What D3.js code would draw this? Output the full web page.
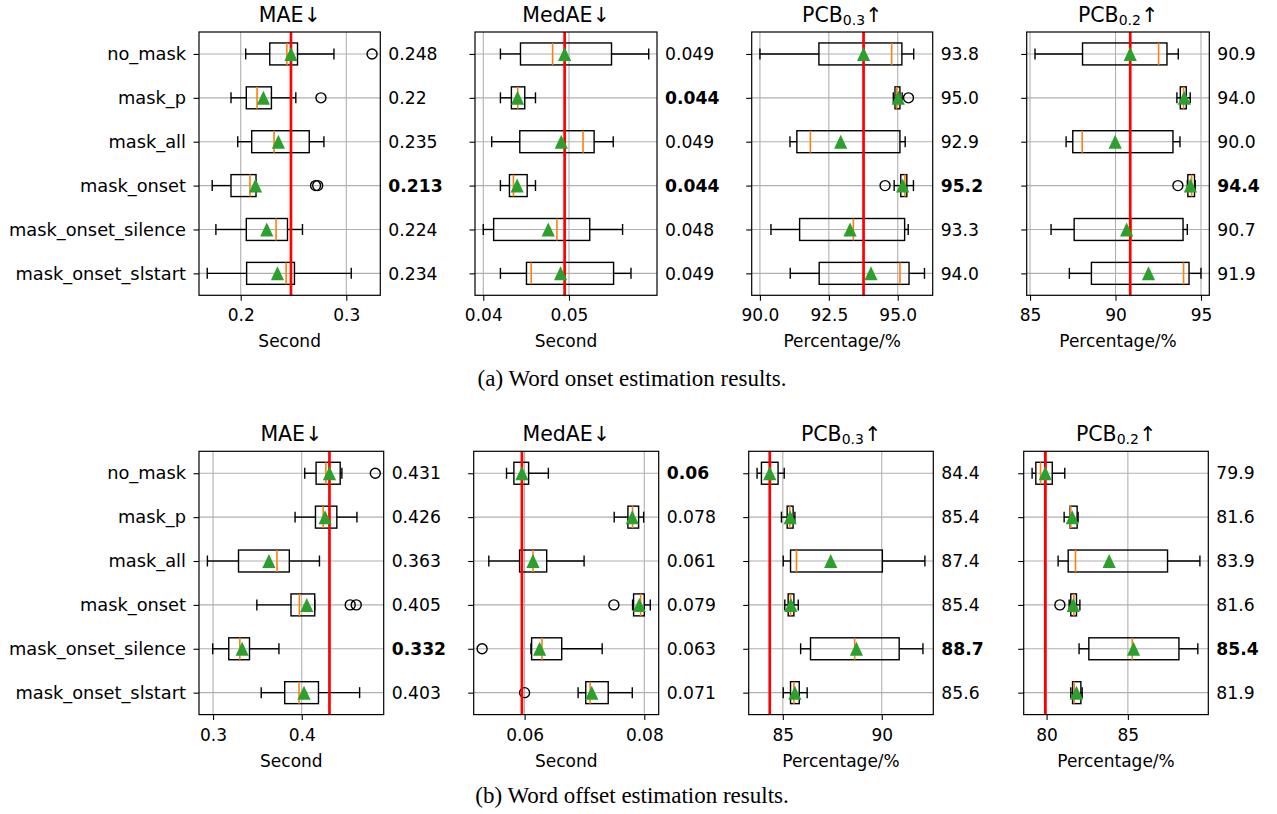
<!DOCTYPE html>
<html>
<head>
<meta charset="utf-8">
<script src="https://cdn.jsdelivr.net/npm/d3@7"></script>
<style>
body { margin: 0; background: #fff; }
text { font-family: "DejaVu Sans", sans-serif; }
</style>
</head>
<body>
<script>
let W = 1277
let H = 814

let methods = ["no_mask", "mask_p", "mask_all", "mask_onset", "mask_onset_silence", "mask_onset_slstart"]

// each row: [whisker low, q1, median, q3, whisker high, mean]
let onsetMAE = [
    [0.2047, 0.2275, 0.2437, 0.2538, 0.2883, 0.2476],
    [0.1908, 0.2053, 0.2155, 0.2291, 0.2522, 0.2215],
    [0.1972, 0.2104, 0.2316, 0.2649, 0.2788, 0.2357],
    [0.1730, 0.1908, 0.2088, 0.2145, 0.2145, 0.2140],
    [0.1765, 0.2053, 0.2335, 0.2443, 0.2585, 0.2247],
    [0.1683, 0.2056, 0.2430, 0.2509, 0.3047, 0.2348]
]
let onsetMAEOut = [[0.3244], [0.276], [], [0.2709, 0.2729], [], []]
let onsetMAEScore = ["0.248", "0.22", "0.235", "0.213", "0.224", "0.234"]

let onsetMedAE = [
    [0.0420, 0.04434, 0.04809, 0.05496, 0.0593, 0.04949],
    [0.0420, 0.04328, 0.04402, 0.04484, 0.04609, 0.0440],
    [0.04098, 0.04426, 0.05164, 0.05293, 0.05516, 0.0491],
    [0.0420, 0.04305, 0.04352, 0.04512, 0.04609, 0.04395],
    [0.0400, 0.04121, 0.04859, 0.05242, 0.05625, 0.04758],
    [0.0420, 0.04504, 0.04559, 0.0552, 0.05723, 0.04902]
]
let onsetMedAEOut = [[], [], [], [], [], []]
let onsetMedAEScore = ["0.049", "0.044", "0.049", "0.044", "0.048", "0.049"]

let onsetPCB3 = [
    [90.00, 92.14, 94.78, 95.15, 95.58, 93.76],
    [94.84, 94.90, 94.96, 95.08, 95.16, 95.02],
    [91.09, 91.34, 91.83, 95.08, 95.27, 92.93],
    [94.87, 95.11, 95.26, 95.33, 95.57, 95.18],
    [90.40, 91.44, 93.39, 95.25, 95.38, 93.27],
    [91.10, 92.15, 95.08, 95.41, 95.97, 94.03]
]
let onsetPCB3Out = [[], [95.39], [], [94.54], [], []]
let onsetPCB3Score = ["93.8", "95.0", "92.9", "95.2", "93.3", "94.0"]

let onsetPCB2 = [
    [85.29, 88.07, 92.52, 93.01, 93.67, 90.86],
    [93.59, 93.79, 93.98, 94.14, 94.37, 94.02],
    [87.11, 87.50, 88.05, 93.36, 93.77, 89.98],
    [94.20, 94.23, 94.45, 94.62, 94.66, 94.38],
    [86.23, 87.58, 90.92, 93.95, 94.20, 90.65],
    [87.30, 88.59, 93.98, 94.30, 95.00, 91.93]
]
let onsetPCB2Out = [[], [], [], [93.65], [], []]
let onsetPCB2Score = ["90.9", "94.0", "90.0", "94.4", "90.7", "91.9"]

let offsetMAE = [
    [0.4034, 0.4162, 0.4272, 0.4434, 0.4453, 0.4313],
    [0.3925, 0.4155, 0.4242, 0.4396, 0.4623, 0.4264],
    [0.2936, 0.3287, 0.3721, 0.3860, 0.4200, 0.3630],
    [0.3494, 0.3879, 0.3974, 0.4147, 0.4147, 0.4057],
    [0.2996, 0.3177, 0.3302, 0.3411, 0.3743, 0.3328],
    [0.3543, 0.3808, 0.3970, 0.4189, 0.4653, 0.4026]
]
let offsetMAEOut = [[0.483], [], [], [0.4547, 0.4615], [], []]
let offsetMAEScore = ["0.431", "0.426", "0.363", "0.405", "0.332", "0.403"]

let offsetMedAE = [
    [0.05698, 0.05821, 0.05955, 0.06067, 0.06397, 0.05955],
    [0.07497, 0.07726, 0.07804, 0.07905, 0.07989, 0.07799],
    [0.05402, 0.05916, 0.0614, 0.06369, 0.06994, 0.0614],
    [0.07804, 0.07821, 0.07939, 0.0800, 0.0810, 0.07916],
    [0.06106, 0.06117, 0.0629, 0.0662, 0.07296, 0.06251],
    [0.06894, 0.07022, 0.07095, 0.07397, 0.07799, 0.07123]
]
let offsetMedAEOut = [[], [], [], [0.07492], [0.0529], [0.0600]]
let offsetMedAEScore = ["0.06", "0.078", "0.061", "0.079", "0.063", "0.071"]

let offsetPCB3 = [
    [83.70, 83.92, 84.38, 84.76, 85.07, 84.34],
    [84.93, 85.22, 85.35, 85.52, 85.61, 85.37],
    [85.02, 85.39, 85.69, 90.03, 92.18, 87.42],
    [85.10, 85.27, 85.39, 85.56, 85.78, 85.41],
    [85.90, 86.40, 88.63, 90.88, 92.08, 88.72],
    [85.02, 85.39, 85.56, 85.83, 86.23, 85.61]
]
let offsetPCB3Out = [[], [], [], [], [], []]
let offsetPCB3Score = ["84.4", "85.4", "87.4", "85.4", "88.7", "85.6"]

let offsetPCB2 = [
    [79.11, 79.34, 79.63, 80.35, 81.12, 79.92],
    [81.08, 81.45, 81.49, 81.88, 81.94, 81.58],
    [80.71, 81.33, 81.78, 87.44, 89.43, 83.85],
    [81.39, 81.49, 81.68, 81.84, 82.05, 81.64],
    [82.00, 82.60, 85.27, 88.14, 89.30, 85.35],
    [81.49, 81.60, 81.70, 82.11, 82.19, 81.84]
]
let offsetPCB2Out = [[], [], [], [80.82], [], []]
let offsetPCB2Score = ["79.9", "81.6", "83.9", "81.6", "85.4", "81.9"]

let captions = ["(a) Word onset estimation results.", "(b) Word offset estimation results."]

let panelH = 263.3

let panels = [
    { title: "MAE", sub: "", arrow: "↓", label: "Second", stats: onsetMAE, out: onsetMAEOut, score: onsetMAEScore, best: [3], ticks: [0.2, 0.3], fmt: ".1f", x: 199, y: 32, w: 181.3 },
    { title: "MedAE", sub: "", arrow: "↓", label: "Second", stats: onsetMedAE, out: onsetMedAEOut, score: onsetMedAEScore, best: [1, 3], ticks: [0.04, 0.05], fmt: ".2f", x: 475, y: 32, w: 182 },
    { title: "PCB", sub: "0.3", arrow: "↑", label: "Percentage/%", stats: onsetPCB3, out: onsetPCB3Out, score: onsetPCB3Score, best: [3], ticks: [90, 92.5, 95], fmt: ".1f", x: 751.7, y: 32, w: 181 },
    { title: "PCB", sub: "0.2", arrow: "↑", label: "Percentage/%", stats: onsetPCB2, out: onsetPCB2Out, score: onsetPCB2Score, best: [3], ticks: [85, 90, 95], fmt: "d", x: 1026.7, y: 32, w: 182.6 },
    { title: "MAE", sub: "", arrow: "↓", label: "Second", stats: offsetMAE, out: offsetMAEOut, score: offsetMAEScore, best: [4], ticks: [0.3, 0.4], fmt: ".1f", x: 199, y: 451.3, w: 184.7 },
    { title: "MedAE", sub: "", arrow: "↓", label: "Second", stats: offsetMedAE, out: offsetMedAEOut, score: offsetMedAEScore, best: [0], ticks: [0.06, 0.08], fmt: ".2f", x: 473.7, y: 451.3, w: 185 },
    { title: "PCB", sub: "0.3", arrow: "↑", label: "Percentage/%", stats: offsetPCB3, out: offsetPCB3Out, score: offsetPCB3Score, best: [4], ticks: [85, 90], fmt: "d", x: 748.7, y: 451.3, w: 184.6 },
    { title: "PCB", sub: "0.2", arrow: "↑", label: "Percentage/%", stats: offsetPCB2, out: offsetPCB2Out, score: offsetPCB2Score, best: [4], ticks: [80, 85], fmt: "d", x: 1023.7, y: 451.3, w: 184.6 }
]

let svg = d3.select("body")
    .append("svg")
    .attr("width", W)
    .attr("height", H)

panels.forEach((p, i) => drawPanel(p, i))

svg.selectAll(".caption")
    .data(captions)
    .enter()
    .append("text")
    .attr("class", "caption")
    .attr("x", 632)
    .attr("y", (d, i) => i == 0 ? 386 : 803)
    .attr("text-anchor", "middle")
    .style("font-family", "'Liberation Serif', serif")
    .style("font-size", "23px")
    .text(d => d)

function drawPanel(p, i) {
    let g = svg.append("g")
    let values = p.stats.flat().concat(p.out.flat())
    let [lo, hi] = d3.extent(values)
    let pad = (hi - lo) * 0.05
    let x = d3.scaleLinear().domain([lo - pad, hi + pad]).range([p.x, p.x + p.w])
    let y = d3.scaleLinear().domain([0.5, 6.5]).range([p.y, p.y + panelH])
    let rows = d3.range(1, 7)

    // grid
    g.selectAll(".vgrid")
        .data(p.ticks)
        .enter()
        .append("line")
        .attr("x1", d => x(d)).attr("x2", d => x(d))
        .attr("y1", p.y).attr("y2", p.y + panelH)
        .attr("stroke", "#b0b0b0").attr("stroke-width", 1.1)
    g.selectAll(".hgrid")
        .data(rows)
        .enter()
        .append("line")
        .attr("x1", p.x).attr("x2", p.x + p.w)
        .attr("y1", d => y(d)).attr("y2", d => y(d))
        .attr("stroke", "#b0b0b0").attr("stroke-width", 1.1)

    // axes
    let xAxis = d3.axisBottom(x)
        .tickValues(p.ticks)
        .tickFormat(d3.format(p.fmt))
        .tickSize(5.5)
        .tickSizeOuter(0)
        .tickPadding(8.5)
    let gx = g.append("g")
        .attr("transform", "translate(0," + (p.y + panelH) + ")")
        .call(xAxis)
    let yAxis = d3.axisLeft(y)
        .tickValues(rows)
        .tickFormat(d => i % 4 == 0 ? methods[d - 1] : "")
        .tickSize(5.5)
        .tickSizeOuter(0)
        .tickPadding(7.5)
    let gy = g.append("g")
        .attr("transform", "translate(" + p.x + ",0)")
        .call(yAxis)
    for (let a of [gx, gy]) {
        a.select(".domain").remove()
        a.selectAll(".tick line").attr("stroke", "#000").attr("stroke-width", 1.1)
        a.selectAll(".tick text")
            .attr("fill", "#000")
            .style("font-family", "'DejaVu Sans', sans-serif")
            .style("font-size", a == gy ? "17.8px" : "17px")
    }

    // boxes
    let box = g.selectAll(".box")
        .data(p.stats)
        .enter()
        .append("g")
    let half = (y(1.25) - y(1))
    let cap = half / 2
    box.append("line")
        .attr("x1", d => x(d[0])).attr("x2", d => x(d[1]))
        .attr("y1", (d, r) => y(r + 1)).attr("y2", (d, r) => y(r + 1))
        .attr("stroke", "#000").attr("stroke-width", 1.4)
    box.append("line")
        .attr("x1", d => x(d[3])).attr("x2", d => x(d[4]))
        .attr("y1", (d, r) => y(r + 1)).attr("y2", (d, r) => y(r + 1))
        .attr("stroke", "#000").attr("stroke-width", 1.4)
    box.append("line")
        .attr("x1", d => x(d[0])).attr("x2", d => x(d[0]))
        .attr("y1", (d, r) => y(r + 1) - cap).attr("y2", (d, r) => y(r + 1) + cap)
        .attr("stroke", "#000").attr("stroke-width", 1.4)
    box.append("line")
        .attr("x1", d => x(d[4])).attr("x2", d => x(d[4]))
        .attr("y1", (d, r) => y(r + 1) - cap).attr("y2", (d, r) => y(r + 1) + cap)
        .attr("stroke", "#000").attr("stroke-width", 1.4)
    box.append("rect")
        .attr("x", d => x(d[1]))
        .attr("width", d => x(d[3]) - x(d[1]))
        .attr("y", (d, r) => y(r + 1) - half)
        .attr("height", half * 2)
        .attr("fill", "none")
        .attr("stroke", "#000").attr("stroke-width", 1.4)
    box.append("line")
        .attr("x1", d => x(d[2])).attr("x2", d => x(d[2]))
        .attr("y1", (d, r) => y(r + 1) - half).attr("y2", (d, r) => y(r + 1) + half)
        .attr("stroke", "#ff7f0e").attr("stroke-width", 1.6)

    // outliers
    let pts = []
    p.out.forEach((o, r) => o.forEach(v => pts.push({ v: v, r: r + 1 })))
    g.selectAll(".flier")
        .data(pts)
        .enter()
        .append("circle")
        .attr("cx", d => x(d.v))
        .attr("cy", d => y(d.r))
        .attr("r", 5)
        .attr("fill", "none")
        .attr("stroke", "#000").attr("stroke-width", 1.4)

    // baseline (no_mask mean)
    g.append("line")
        .attr("x1", x(p.stats[0][5])).attr("x2", x(p.stats[0][5]))
        .attr("y1", p.y).attr("y2", p.y + panelH)
        .attr("stroke", "red").attr("stroke-width", 2.7)

    // means
    g.selectAll(".mean")
        .data(p.stats)
        .enter()
        .append("path")
        .attr("d", "M0,-7L6.6,7L-6.6,7Z")
        .attr("transform", (d, r) => "translate(" + x(d[5]) + "," + y(r + 1) + ")")
        .attr("fill", "#2ca02c")

    // frame
    g.append("rect")
        .attr("x", p.x).attr("y", p.y)
        .attr("width", p.w).attr("height", panelH)
        .attr("fill", "none")
        .attr("stroke", "#000").attr("stroke-width", 1.2)

    // scores on the right
    g.selectAll(".score")
        .data(p.score)
        .enter()
        .append("text")
        .attr("x", p.x + p.w + 8)
        .attr("y", (d, r) => y(r + 1))
        .attr("dy", "0.36em")
        .style("font-size", "17.2px")
        .style("font-weight", (d, r) => p.best.includes(r) ? "bold" : "normal")
        .text(d => d)

    // title
    let t = g.append("text")
        .attr("x", p.x + p.w / 2)
        .attr("y", p.y - 10.5)
        .attr("text-anchor", "middle")
        .style("font-size", "20.5px")
    t.append("tspan").text(p.title)
    if (p.sub) {
        t.append("tspan").attr("dy", 3.5).style("font-size", "14px").text(p.sub)
        t.append("tspan").attr("dy", -3.5).text(p.arrow)
    } else {
        t.append("tspan").text(p.arrow)
    }

    // x label
    g.append("text")
        .attr("x", p.x + p.w / 2)
        .attr("y", p.y + panelH + 52)
        .attr("text-anchor", "middle")
        .style("font-size", "17px")
        .text(p.label)
}
</script>
</body>
</html>
